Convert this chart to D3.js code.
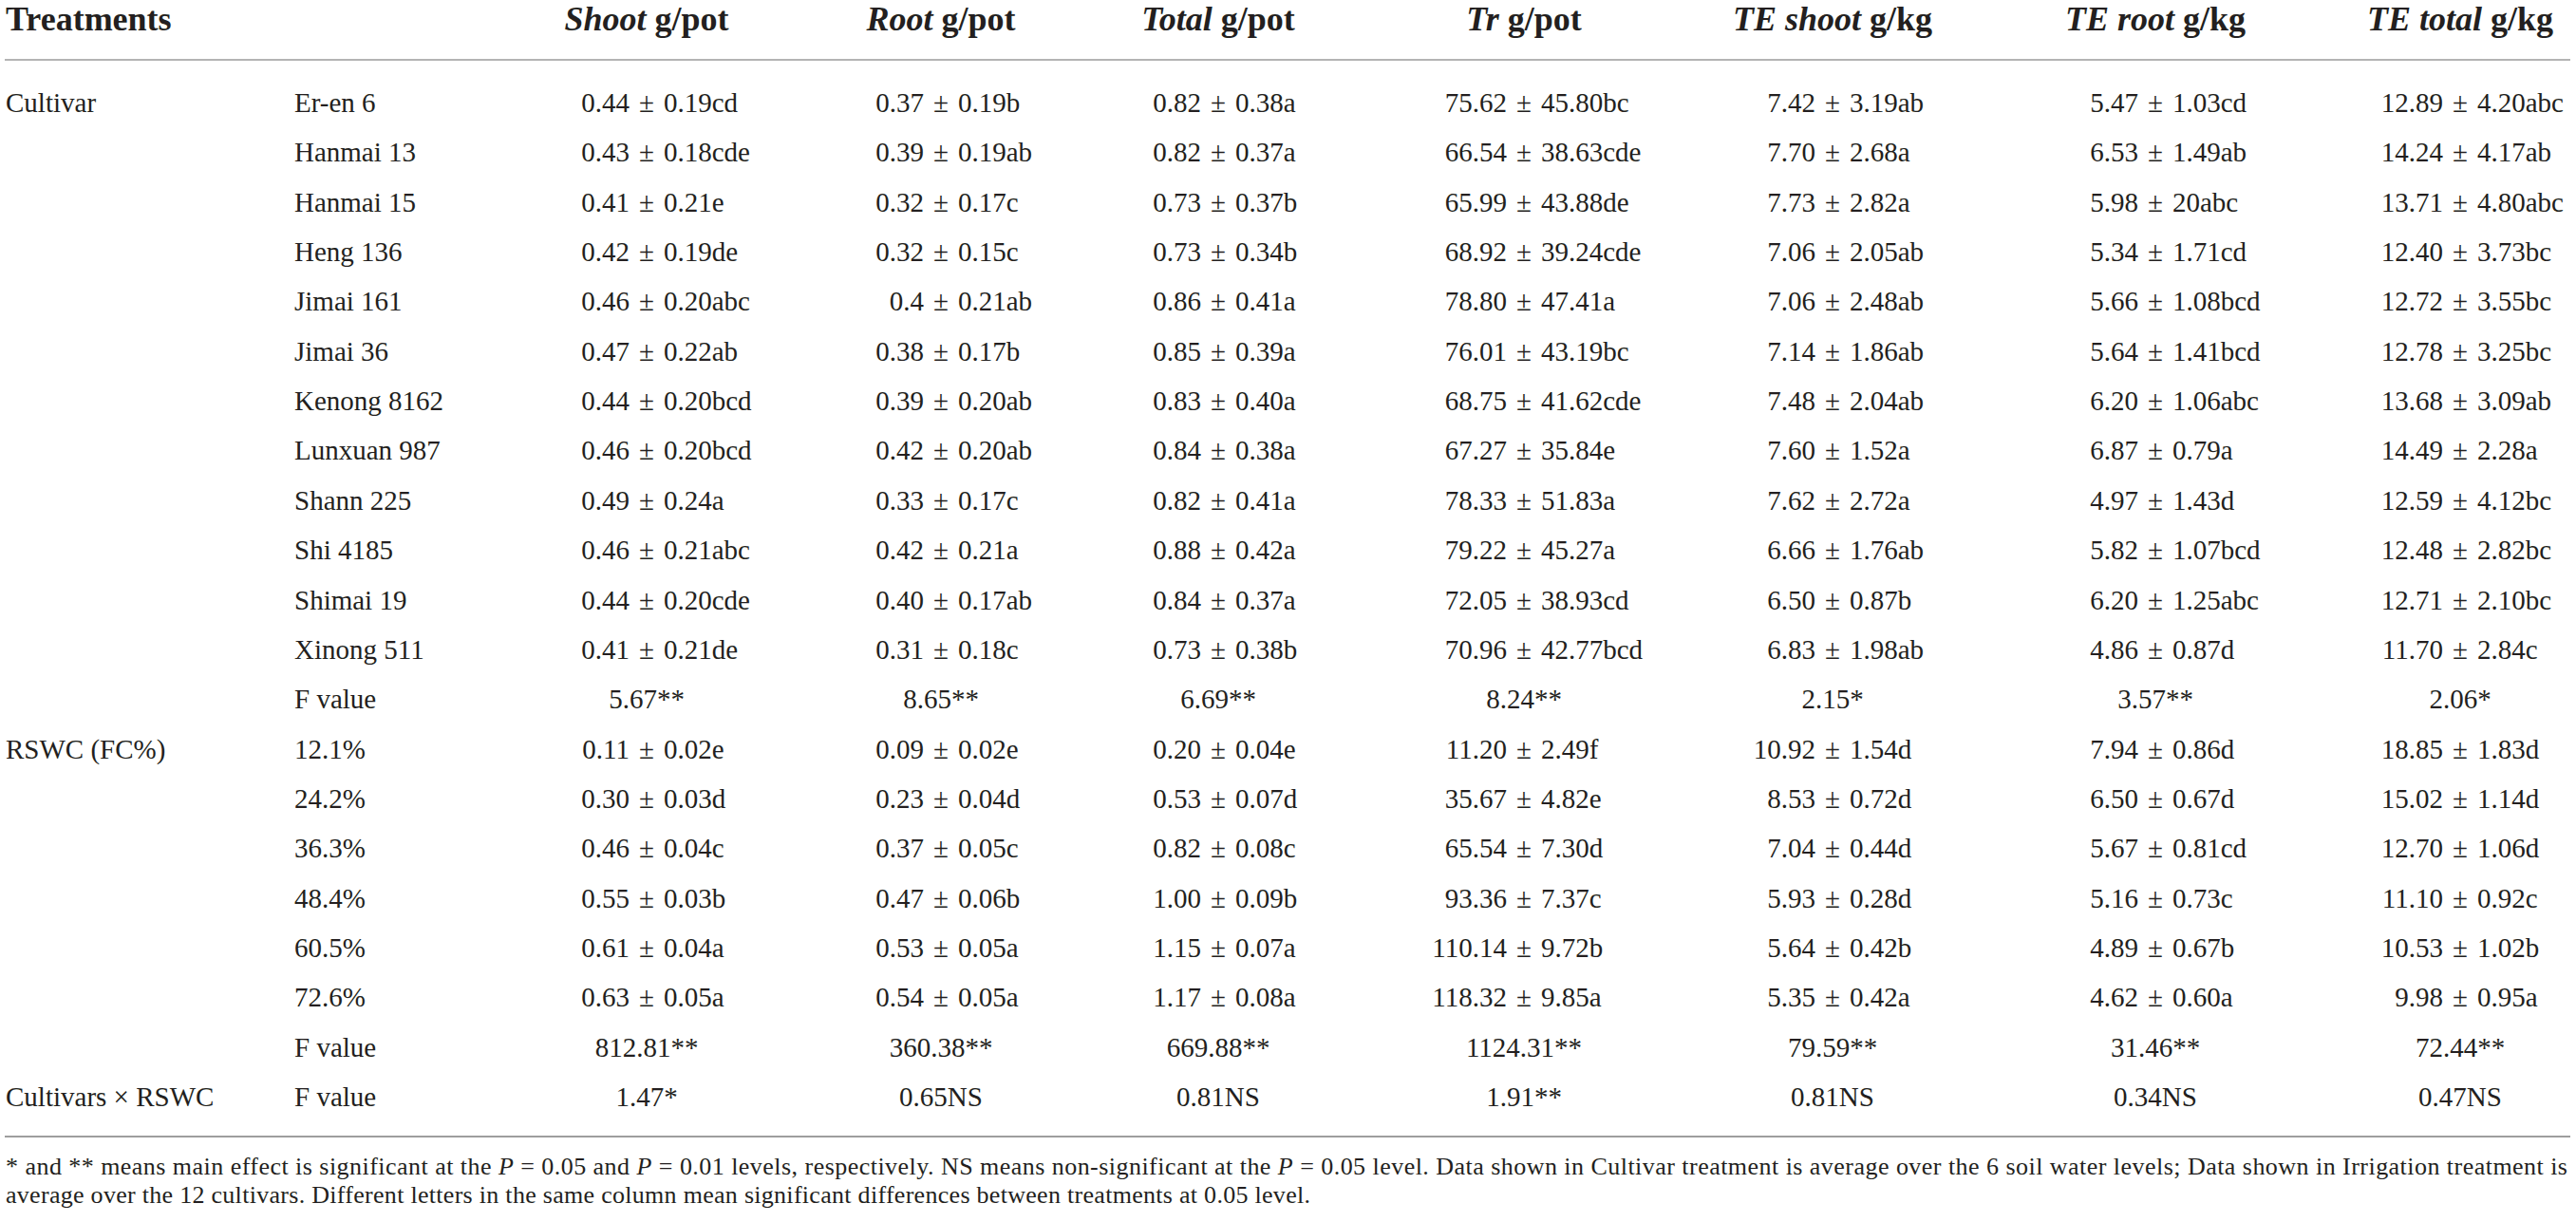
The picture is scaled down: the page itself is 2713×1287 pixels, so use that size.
<!DOCTYPE html>
<html>
<head>
<meta charset="utf-8">
<script src="https://cdn.jsdelivr.net/npm/d3@7"></script>
<style>
  html, body { margin: 0; padding: 0; background: #fff; }
  svg { display: block; font-family: "Liberation Serif", "DejaVu Serif", serif; }
</style>
</head>
<body>
<svg id="tbl"></svg>
<script>
// column headers: italic part + unit
const headItalic = ["Shoot", "Root", "Total", "Tr", "TE shoot", "TE root", "TE total"];
const headUnit = ["g/pot", "g/pot", "g/pot", "g/pot", "g/kg", "g/kg", "g/kg"];

// row groups and row labels
const groups = [["Cultivar", 0], ["RSWC (FC%)", 13], ["Cultivars \u00d7 RSWC", 20]];
const cultivars = ["Er-en 6", "Hanmai 13", "Hanmai 15", "Heng 136", "Jimai 161", "Jimai 36",
    "Kenong 8162", "Lunxuan 987", "Shann 225", "Shi 4185", "Shimai 19", "Xinong 511"];
const rswc = ["12.1%", "24.2%", "36.3%", "48.4%", "60.5%", "72.6%"];
const rowLabels = [...cultivars, "F value", ...rswc, "F value", "F value"];

// cell values, one array per column (12 cultivars, F, 6 RSWC levels, F, interaction F)
const shoot = ["0.44 ± 0.19cd", "0.43 ± 0.18cde", "0.41 ± 0.21e", "0.42 ± 0.19de", "0.46 ± 0.20abc",
    "0.47 ± 0.22ab", "0.44 ± 0.20bcd", "0.46 ± 0.20bcd", "0.49 ± 0.24a", "0.46 ± 0.21abc",
    "0.44 ± 0.20cde", "0.41 ± 0.21de", "5.67**",
    "0.11 ± 0.02e", "0.30 ± 0.03d", "0.46 ± 0.04c", "0.55 ± 0.03b", "0.61 ± 0.04a", "0.63 ± 0.05a",
    "812.81**", "1.47*"];
const root = ["0.37 ± 0.19b", "0.39 ± 0.19ab", "0.32 ± 0.17c", "0.32 ± 0.15c", "0.4 ± 0.21ab",
    "0.38 ± 0.17b", "0.39 ± 0.20ab", "0.42 ± 0.20ab", "0.33 ± 0.17c", "0.42 ± 0.21a",
    "0.40 ± 0.17ab", "0.31 ± 0.18c", "8.65**",
    "0.09 ± 0.02e", "0.23 ± 0.04d", "0.37 ± 0.05c", "0.47 ± 0.06b", "0.53 ± 0.05a", "0.54 ± 0.05a",
    "360.38**", "0.65NS"];
const total = ["0.82 ± 0.38a", "0.82 ± 0.37a", "0.73 ± 0.37b", "0.73 ± 0.34b", "0.86 ± 0.41a",
    "0.85 ± 0.39a", "0.83 ± 0.40a", "0.84 ± 0.38a", "0.82 ± 0.41a", "0.88 ± 0.42a",
    "0.84 ± 0.37a", "0.73 ± 0.38b", "6.69**",
    "0.20 ± 0.04e", "0.53 ± 0.07d", "0.82 ± 0.08c", "1.00 ± 0.09b", "1.15 ± 0.07a", "1.17 ± 0.08a",
    "669.88**", "0.81NS"];
const tr = ["75.62 ± 45.80bc", "66.54 ± 38.63cde", "65.99 ± 43.88de", "68.92 ± 39.24cde", "78.80 ± 47.41a",
    "76.01 ± 43.19bc", "68.75 ± 41.62cde", "67.27 ± 35.84e", "78.33 ± 51.83a", "79.22 ± 45.27a",
    "72.05 ± 38.93cd", "70.96 ± 42.77bcd", "8.24**",
    "11.20 ± 2.49f", "35.67 ± 4.82e", "65.54 ± 7.30d", "93.36 ± 7.37c", "110.14 ± 9.72b", "118.32 ± 9.85a",
    "1124.31**", "1.91**"];
const teShoot = ["7.42 ± 3.19ab", "7.70 ± 2.68a", "7.73 ± 2.82a", "7.06 ± 2.05ab", "7.06 ± 2.48ab",
    "7.14 ± 1.86ab", "7.48 ± 2.04ab", "7.60 ± 1.52a", "7.62 ± 2.72a", "6.66 ± 1.76ab",
    "6.50 ± 0.87b", "6.83 ± 1.98ab", "2.15*",
    "10.92 ± 1.54d", "8.53 ± 0.72d", "7.04 ± 0.44d", "5.93 ± 0.28d", "5.64 ± 0.42b", "5.35 ± 0.42a",
    "79.59**", "0.81NS"];
const teRoot = ["5.47 ± 1.03cd", "6.53 ± 1.49ab", "5.98 ± 20abc", "5.34 ± 1.71cd", "5.66 ± 1.08bcd",
    "5.64 ± 1.41bcd", "6.20 ± 1.06abc", "6.87 ± 0.79a", "4.97 ± 1.43d", "5.82 ± 1.07bcd",
    "6.20 ± 1.25abc", "4.86 ± 0.87d", "3.57**",
    "7.94 ± 0.86d", "6.50 ± 0.67d", "5.67 ± 0.81cd", "5.16 ± 0.73c", "4.89 ± 0.67b", "4.62 ± 0.60a",
    "31.46**", "0.34NS"];
const teTotal = ["12.89 ± 4.20abc", "14.24 ± 4.17ab", "13.71 ± 4.80abc", "12.40 ± 3.73bc", "12.72 ± 3.55bc",
    "12.78 ± 3.25bc", "13.68 ± 3.09ab", "14.49 ± 2.28a", "12.59 ± 4.12bc", "12.48 ± 2.82bc",
    "12.71 ± 2.10bc", "11.70 ± 2.84c", "2.06*",
    "18.85 ± 1.83d", "15.02 ± 1.14d", "12.70 ± 1.06d", "11.10 ± 0.92c", "10.53 ± 1.02b", "9.98 ± 0.95a",
    "72.44**", "0.47NS"];
const columns = [shoot, root, total, tr, teShoot, teRoot, teTotal];

// footnote, split so P can be italic
const note1 = [["* and ** means main effect is significant at the ", false], ["P", true], [" = 0.05 and ", false],
    ["P", true], [" = 0.01 levels, respectively. NS means non-significant at the ", false], ["P", true],
    [" = 0.05 level. Data shown in Cultivar treatment is average over the 6 soil water levels; Data shown in Irrigation treatment is", false]];
const note2 = "average over the 12 cultivars. Different letters in the same column mean significant differences between treatments at 0.05 level.";

const W = 2713, H = 1287;
const ink = "#231f20";

const svg = d3.select("#tbl").attr("width", W).attr("height", H);

// scales
const x = d3.scaleOrdinal().domain(d3.range(columns.length))
    .range([681, 991, 1283, 1605, 1930, 2270, 2591]);
const y = d3.scaleLinear().domain([0, rowLabels.length - 1]).range([118, 1165]);

// header
svg.append("text")
    .attr("x", 6).attr("y", 32)
    .attr("font-size", 36).attr("font-weight", "bold").attr("fill", ink)
    .text("Treatments");

const head = svg.append("g").selectAll("text")
    .data(headItalic)
    .join("text")
    .attr("x", (d, i) => x(i)).attr("y", 32)
    .attr("text-anchor", "middle")
    .attr("font-size", 36).attr("font-weight", "bold").attr("fill", ink);
head.append("tspan").attr("font-style", "italic").text(d => d);
head.append("tspan").text((d, i) => " " + headUnit[i]);

// rules
svg.append("line").attr("x1", 5).attr("x2", 2707).attr("y1", 63).attr("y2", 63)
    .attr("stroke", "#b4b4b4").attr("stroke-width", 2);
svg.append("line").attr("x1", 5).attr("x2", 2707).attr("y1", 1197).attr("y2", 1197)
    .attr("stroke", "#9e9e9e").attr("stroke-width", 2);

const body = svg.append("g").attr("font-size", 29).attr("fill", ink);

// group labels
body.selectAll("text.grp")
    .data(groups)
    .join("text").attr("class", "grp")
    .attr("x", 6).attr("y", d => y(d[1]))
    .text(d => d[0]);

// row labels
body.selectAll("text.lab")
    .data(rowLabels)
    .join("text").attr("class", "lab")
    .attr("x", 310).attr("y", (d, i) => y(i))
    .text(d => d);

// cells, aligned on the ± sign; F values centred on it
const cells = [];
columns.forEach((col, c) => col.forEach((v, r) => cells.push({c, r, v})));

const cell = body.selectAll("g.cell")
    .data(cells)
    .join("g").attr("class", "cell")
    .attr("transform", d => `translate(${x(d.c)},${y(d.r)})`);

cell.each(function (d) {
    const g = d3.select(this);
    const parts = d.v.split(" ± ");
    if (parts.length === 2) {
        g.append("text").attr("x", -18).attr("text-anchor", "end").text(parts[0]);
        g.append("text").attr("x", 0).attr("text-anchor", "middle").text("±");
        g.append("text").attr("x", 18).text(parts[1]);
    } else {
        g.append("text").attr("text-anchor", "middle").text(d.v);
    }
});

// footnote
const foot = svg.append("g").attr("font-size", 26).attr("fill", ink);
const f1 = foot.append("text").attr("x", 6).attr("y", 1237)
    .attr("textLength", 2698).attr("lengthAdjust", "spacing");
f1.selectAll("tspan").data(note1).join("tspan")
    .attr("font-style", d => d[1] ? "italic" : null)
    .text(d => d[0]);
foot.append("text").attr("x", 6).attr("y", 1267)
    .attr("textLength", 1374).attr("lengthAdjust", "spacing")
    .text(note2);
</script>
</body>
</html>
